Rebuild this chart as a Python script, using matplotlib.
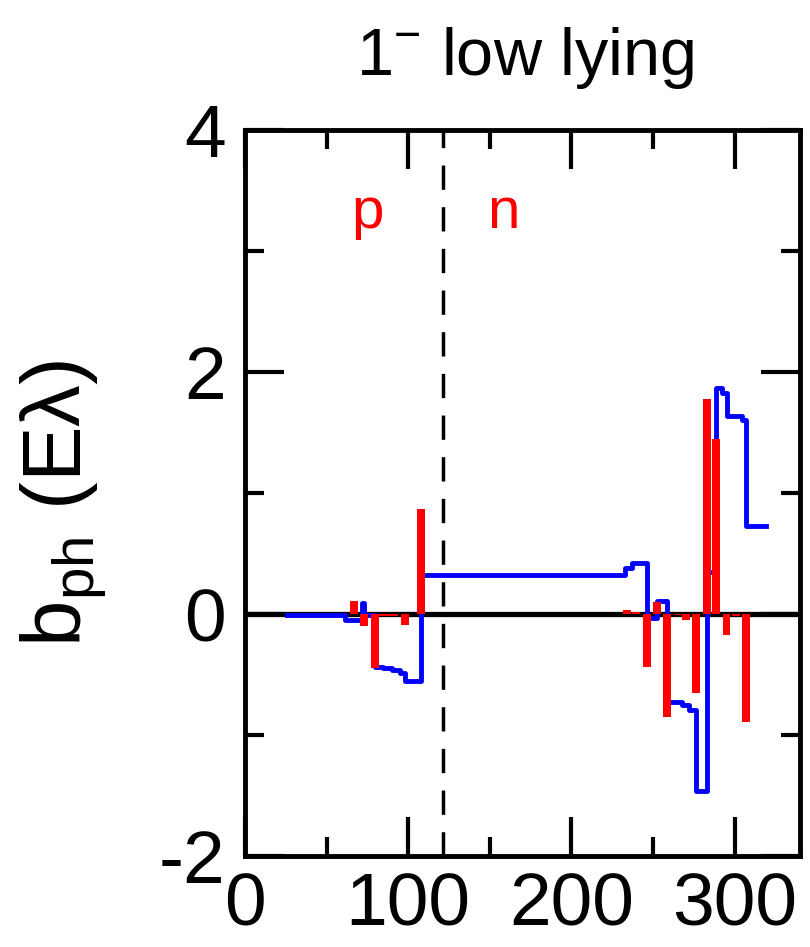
import matplotlib
matplotlib.use('Agg')
import matplotlib.pyplot as plt
import numpy as np

plt.rcParams['font.family'] = ['Liberation Sans', 'DejaVu Sans']
plt.rcParams['mathtext.fontset'] = 'custom'
plt.rcParams['mathtext.rm'] = 'Liberation Sans'
plt.rcParams['mathtext.it'] = 'Liberation Sans'
plt.rcParams['axes.unicode_minus'] = False

# red bars: single state contributions
bar_x = [67, 73, 79.5, 84, 88, 91.5, 98, 108,
         234, 239.5, 246.5, 252.6, 258.7, 265, 270, 276.5,
         283, 288.7, 295, 301, 307]
bar_h = [0.11, -0.10, -0.45, -0.02, -0.02, -0.02, -0.09, 0.87,
         0.03, 0.02, -0.44, 0.10, -0.85, -0.01, -0.05, -0.65,
         1.78, 1.45, -0.17, -0.02, -0.89]

# blue line: running sum (step)
run_x = [26, 61, 71.5, 73, 79.5, 84.5, 90, 95, 98, 108,
         232.5, 237, 246.5, 252.6, 258.7, 268, 272, 276.5,
         283, 288.7, 292.5, 295.5, 304.5, 307, 319]
run_y = [-0.01, -0.05, 0.09, -0.01, -0.44, -0.45, -0.46, -0.49, -0.55, 0.32,
         0.38, 0.42, -0.03, 0.11, -0.73, -0.75, -0.79, -1.46,
         0.35, 1.87, 1.83, 1.64, 1.60, 0.73, 0.73]

split_x = 121

fig = plt.figure(figsize=(8.1, 9.47), dpi=100)
ax = fig.add_axes([245/810, 1-856/947, (800-245)/810, (856-130)/947])

ax.axhline(0, color='black', lw=3.8, zorder=1)
ax.plot(run_x, run_y, drawstyle='steps-post', color='#0000ff', lw=3.5, zorder=2)
ax.bar(bar_x, bar_h, width=4.8, color='#ff0000', zorder=3)
ax.axvline(split_x, color='black', lw=2.5, dashes=(7, 5), zorder=1)

ax.text(75, 3.19, 'p', color='#ff0000', fontsize=42, ha='center', va='baseline')
ax.text(158, 3.19, 'n', color='#ff0000', fontsize=42, ha='center', va='baseline')

ax.set_xlim(0, 340)
ax.set_ylim(-2, 4)
ax.set_xticks([0, 100, 200, 300])
ax.set_xticks([50, 150, 250], minor=True)
ax.set_yticks([-2, 0, 2, 4])
ax.set_yticks([-1, 1, 3], minor=True)
ax.tick_params(which='both', direction='in', top=True, right=True, width=3, labelsize=54)
ax.tick_params(which='major', length=28)
ax.tick_params(which='minor', length=14)
ax.tick_params(axis='x', pad=11)
ax.tick_params(axis='y', pad=14)
for s in ax.spines.values():
    s.set_linewidth(3.5)

ax.set_ylabel(r'$\mathrm{b_{ph}}$ (E' + '\u03bb)', fontsize=60)
ax.yaxis.set_label_coords(-0.245, 0.486)

fig.text(525/810, 1-75/947, r'1$^{\mathrm{-}}$ low lying', fontsize=48, ha='center', va='baseline')

fig.savefig('out.png', dpi=100)
